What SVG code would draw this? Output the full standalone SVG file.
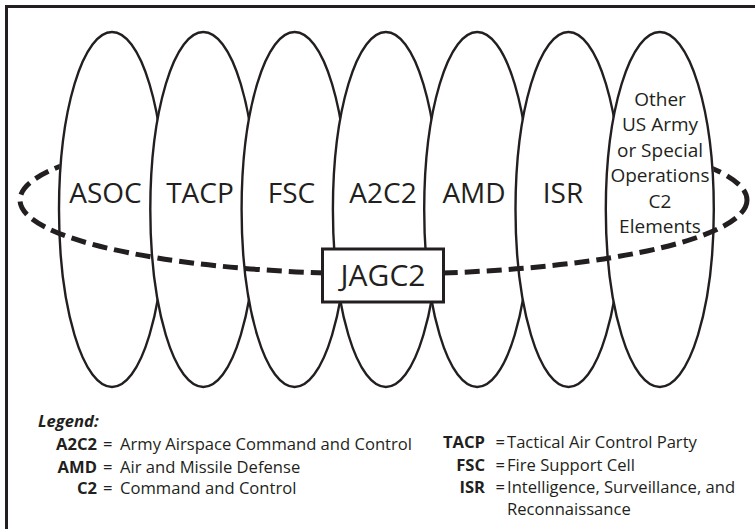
<svg xmlns="http://www.w3.org/2000/svg" width="755" height="529" viewBox="0 0 755 529">
<style>
.frame{stroke:#231f20;stroke-width:3;fill:none}
.cell{fill:#fff;stroke:#231f20;stroke-width:2.4}
.lbl{font-family:"Open Sans","Noto Sans","Liberation Sans",sans-serif;font-size:28px;fill:#231f20;text-anchor:middle}
.small{font-family:"Open Sans","Noto Sans","Liberation Sans",sans-serif;font-size:19px;fill:#231f20;text-anchor:middle}
.ring{fill:none;stroke:#231f20;stroke-width:5;stroke-dasharray:15 7}
.box{fill:#fff;stroke:#231f20;stroke-width:3}
.box-lbl{font-family:"Open Sans","Noto Sans","Liberation Sans",sans-serif;font-size:30px;fill:#231f20;text-anchor:middle}
.leg{font-family:"Open Sans","Noto Sans","Liberation Sans",sans-serif;font-size:16.6px;fill:#231f20}
.abbr{font-weight:bold;text-anchor:end}
.title{font-weight:bold;font-style:italic}
</style>
<defs>
<clipPath id="upperHalf"><rect x="0" y="0" width="755" height="200"/></clipPath>
<mask id="ringMask" maskUnits="userSpaceOnUse" x="0" y="0" width="755" height="529">
<rect x="0" y="0" width="755" height="529" fill="#fff"/>
<g clip-path="url(#upperHalf)" fill="#000">
<ellipse cx="112" cy="209.5" rx="54" ry="178.5"/>
<ellipse cx="203.3" cy="209.5" rx="54" ry="178.5"/>
<ellipse cx="294.6" cy="209.5" rx="54" ry="178.5"/>
<ellipse cx="385.9" cy="209.5" rx="54" ry="178.5"/>
<ellipse cx="477.2" cy="209.5" rx="54" ry="178.5"/>
<ellipse cx="568.5" cy="209.5" rx="54" ry="178.5"/>
<ellipse cx="659.8" cy="209.5" rx="55" ry="178.5"/>
</g>
</mask>
</defs>
<rect width="755" height="529" fill="#fff"/>
<path class="frame" d="M6.5,529 V6.5 H755"/>

<g id="asoc">
<ellipse class="cell" cx="112" cy="209.5" rx="53" ry="177.5"/>
<text class="lbl" x="105.5" y="203.3">ASOC</text>
</g>
<g id="tacp">
<ellipse class="cell" cx="203.3" cy="209.5" rx="53" ry="177.5"/>
<text class="lbl" x="200" y="203.3">TACP</text>
</g>
<g id="fsc">
<ellipse class="cell" cx="294.6" cy="209.5" rx="53" ry="177.5"/>
<text class="lbl" x="291.5" y="203.3">FSC</text>
</g>
<g id="a2c2">
<ellipse class="cell" cx="385.9" cy="209.5" rx="53" ry="177.5"/>
<text class="lbl" x="383" y="203.3">A2C2</text>
</g>
<g id="amd">
<ellipse class="cell" cx="477.2" cy="209.5" rx="53" ry="177.5"/>
<text class="lbl" x="474" y="203.3">AMD</text>
</g>
<g id="isr">
<ellipse class="cell" cx="568.5" cy="209.5" rx="53" ry="177.5"/>
<text class="lbl" x="563" y="203.3">ISR</text>
</g>
<g id="other">
<ellipse class="cell" cx="659.8" cy="209.5" rx="54" ry="177.5"/>
<text class="small" x="660" y="106">Other</text>
<text class="small" x="660" y="131.4">US Army</text>
<text class="small" x="660" y="156.8">or Special</text>
<text class="small" x="660" y="182.2">Operations</text>
<text class="small" x="660" y="207.6">C2</text>
<text class="small" x="660" y="233">Elements</text>
</g>

<g id="connectors" mask="url(#ringMask)">
<ellipse class="ring" cx="383.5" cy="200" rx="363.5" ry="74"/>
</g>

<g id="jagc2">
<rect class="box" x="322.5" y="249" width="121" height="53"/>
<text class="box-lbl" x="383" y="285.5">JAGC2</text>
</g>

<g id="legend" class="leg">
<text class="title" x="38" y="427">Legend:</text>
<text class="abbr" x="97" y="450">A2C2</text>
<text x="103" y="450">=</text>
<text x="120" y="450">Army Airspace Command and Control</text>
<text class="abbr" x="97" y="472.5">AMD</text>
<text x="103" y="472.5">=</text>
<text x="120" y="472.5">Air and Missile Defense</text>
<text class="abbr" x="97" y="493.5">C2</text>
<text x="103" y="493.5">=</text>
<text x="120" y="493.5">Command and Control</text>
<text class="abbr" x="485" y="448">TACP</text>
<text x="495.5" y="448">=</text>
<text x="507" y="448">Tactical Air Control Party</text>
<text class="abbr" x="485" y="471">FSC</text>
<text x="495.5" y="471">=</text>
<text x="507" y="471">Fire Support Cell</text>
<text class="abbr" x="485" y="493">ISR</text>
<text x="495.5" y="493">=</text>
<text x="507" y="493">Intelligence, Surveillance, and</text>
<text x="507" y="515">Reconnaissance</text>
</g>
</svg>
